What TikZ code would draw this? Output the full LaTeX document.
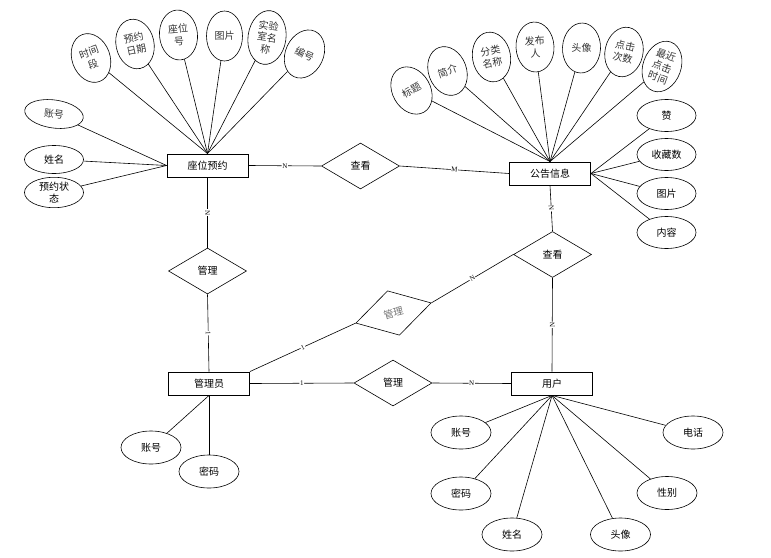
\documentclass[tikz,border=0pt]{standalone}
\usepackage{fontspec}
\setmainfont{Noto Sans CJK SC}
\newfontfamily\labfont{Liberation Serif}
\usetikzlibrary{shapes.geometric}
\begin{document}
\begin{tikzpicture}[x=1pt,y=-1pt,
  every path/.style={line width=0.6pt},
  ent/.style={draw, line width=0.9pt, minimum width=81pt, minimum height=23pt, inner sep=0pt, font=\fontsize{10}{12}\selectfont},
  rel/.style={draw, diamond, aspect=1.7, minimum width=78pt, minimum height=46pt, inner sep=0pt, font=\fontsize{10}{12}\selectfont},
  att/.style={draw, ellipse, inner sep=0pt, align=center, font=\fontsize{10}{12.5}\selectfont},
  tall/.style={att, minimum width=38pt, minimum height=50pt, text=black!80},
  three/.style={font=\fontsize{10}{12}\selectfont},
  wide/.style={att, minimum width=59pt, minimum height=32pt},
  lab/.style={font=\labfont\fontsize{7}{7}\selectfont, fill=white, inner sep=0.6pt, sloped, midway}
]
\useasboundingbox (0,0) rectangle (771,557);

% entities
\node[ent] (zwyy) at (207.5,165.5) {座位预约};
\node[ent] (ggxx) at (550,173.5) {公告信息};
\node[ent] (gly) at (209,383.5) {管理员};
\node[ent] (yh) at (552,383.5) {用户};

% relations
\node[rel] (ck1) at (360.5,166) {查看};
\node[rel] (gl1) at (207.5,271) {管理};
\node[rel] (ck2) at (552.5,254.5) {查看};
\node[rel, rotate=15, text=black!55] (gl2) at (393.5,313) {管理};
\node[rel] (gl3) at (393,383) {管理};

% relation edges
\draw (zwyy.east) -- node[lab]{N} (ck1.west);
\draw (ck1.east) -- node[lab]{M} (ggxx.west);
\draw (zwyy.south) -- node[lab]{N} (gl1.north);
\draw (gl1.south) -- node[lab]{1} (gly.north);
\draw (ggxx.south) -- node[lab]{N} (ck2.north);
\draw (ck2.south) -- node[lab]{N} (yh.north);
\draw (ck2.west) -- node[lab]{N} (gl2.east);
\draw (gl2.west) -- node[lab]{1} (gly.north east);
\draw (gly.east) -- node[lab]{1} (gl3.west);
\draw (gl3.east) -- node[lab]{N} (yh.west);

% 座位预约 attributes
\node[tall, rotate=20] (a1) at (91,58) {时间\\段};
\node[tall, rotate=12] (a2) at (135,44) {预约\\日期};
\node[tall, rotate=5] (a3) at (178.5,35) {座位\\号};
\node[tall, minimum width=36pt] (a4) at (224.5,36) {图片};
\node[tall, three, rotate=-8, minimum height=54pt] (a5) at (267,37.5) {实验\\室名\\称};
\node[tall, rotate=-25] (a6) at (304.5,54) {编号};
\node[wide, minimum height=28pt, rotate=-8, text=black!80] (a7) at (54,114) {账号};
\node[wide, minimum height=28pt] (a8) at (54,159.5) {姓名};
\node[wide, minimum height=29pt] (a9) at (54,192.5) {预约状\\态};
\foreach \n in {a1,a2,a3,a4,a5,a6} \draw (\n) -- (zwyy.north);
\foreach \n in {a7,a8,a9} \draw (\n) -- (zwyy.west);

% 公告信息 attributes
\node[tall, rotate=30] (b1) at (411.5,90.5) {标题};
\node[tall, rotate=20] (b2) at (447.5,71) {简介};
\node[tall, rotate=10] (b3) at (491.5,57) {分类\\名称};
\node[tall, rotate=3] (b4) at (535,47) {发布\\人};
\node[tall, rotate=-3] (b5) at (581.5,48) {头像};
\node[tall, rotate=-12] (b6) at (624,52) {点击\\次数};
\node[tall, three, rotate=-20, minimum height=52pt] (b7) at (662,66.5) {最近\\点击\\时间};
\node[wide] (b8) at (666.5,115.5) {赞};
\node[wide] (b9) at (666.5,154.5) {收藏数};
\node[wide] (b10) at (666.5,193.5) {图片};
\node[wide] (b11) at (666.5,232.5) {内容};
\foreach \n in {b1,b2,b3,b4,b5,b6,b7} \draw (\n) -- (ggxx.north);
\foreach \n in {b8,b9,b10,b11} \draw (\n) -- (ggxx.east);

% 管理员 attributes
\node[wide, minimum width=60pt, minimum height=33pt] (c1) at (151,447.5) {账号};
\node[wide, minimum width=60pt, minimum height=33pt] (c2) at (209,471.5) {密码};
\foreach \n in {c1,c2} \draw (\n) -- (gly.south);

% 用户 attributes
\node[wide, minimum width=60pt, minimum height=33pt] (d1) at (461,432.5) {账号};
\node[wide, minimum width=60pt, minimum height=33pt] (d2) at (461,493.5) {密码};
\node[wide, minimum width=60pt, minimum height=33pt] (d3) at (512,534.5) {姓名};
\node[wide, minimum width=60pt, minimum height=33pt] (d4) at (620.5,534.5) {头像};
\node[wide, minimum width=60pt, minimum height=33pt] (d5) at (667,493) {性别};
\node[wide, minimum width=60pt, minimum height=33pt] (d6) at (693,432.5) {电话};
\foreach \n in {d1,d2,d3,d4,d5,d6} \draw (\n) -- (yh.south);
\end{tikzpicture}
\end{document}
